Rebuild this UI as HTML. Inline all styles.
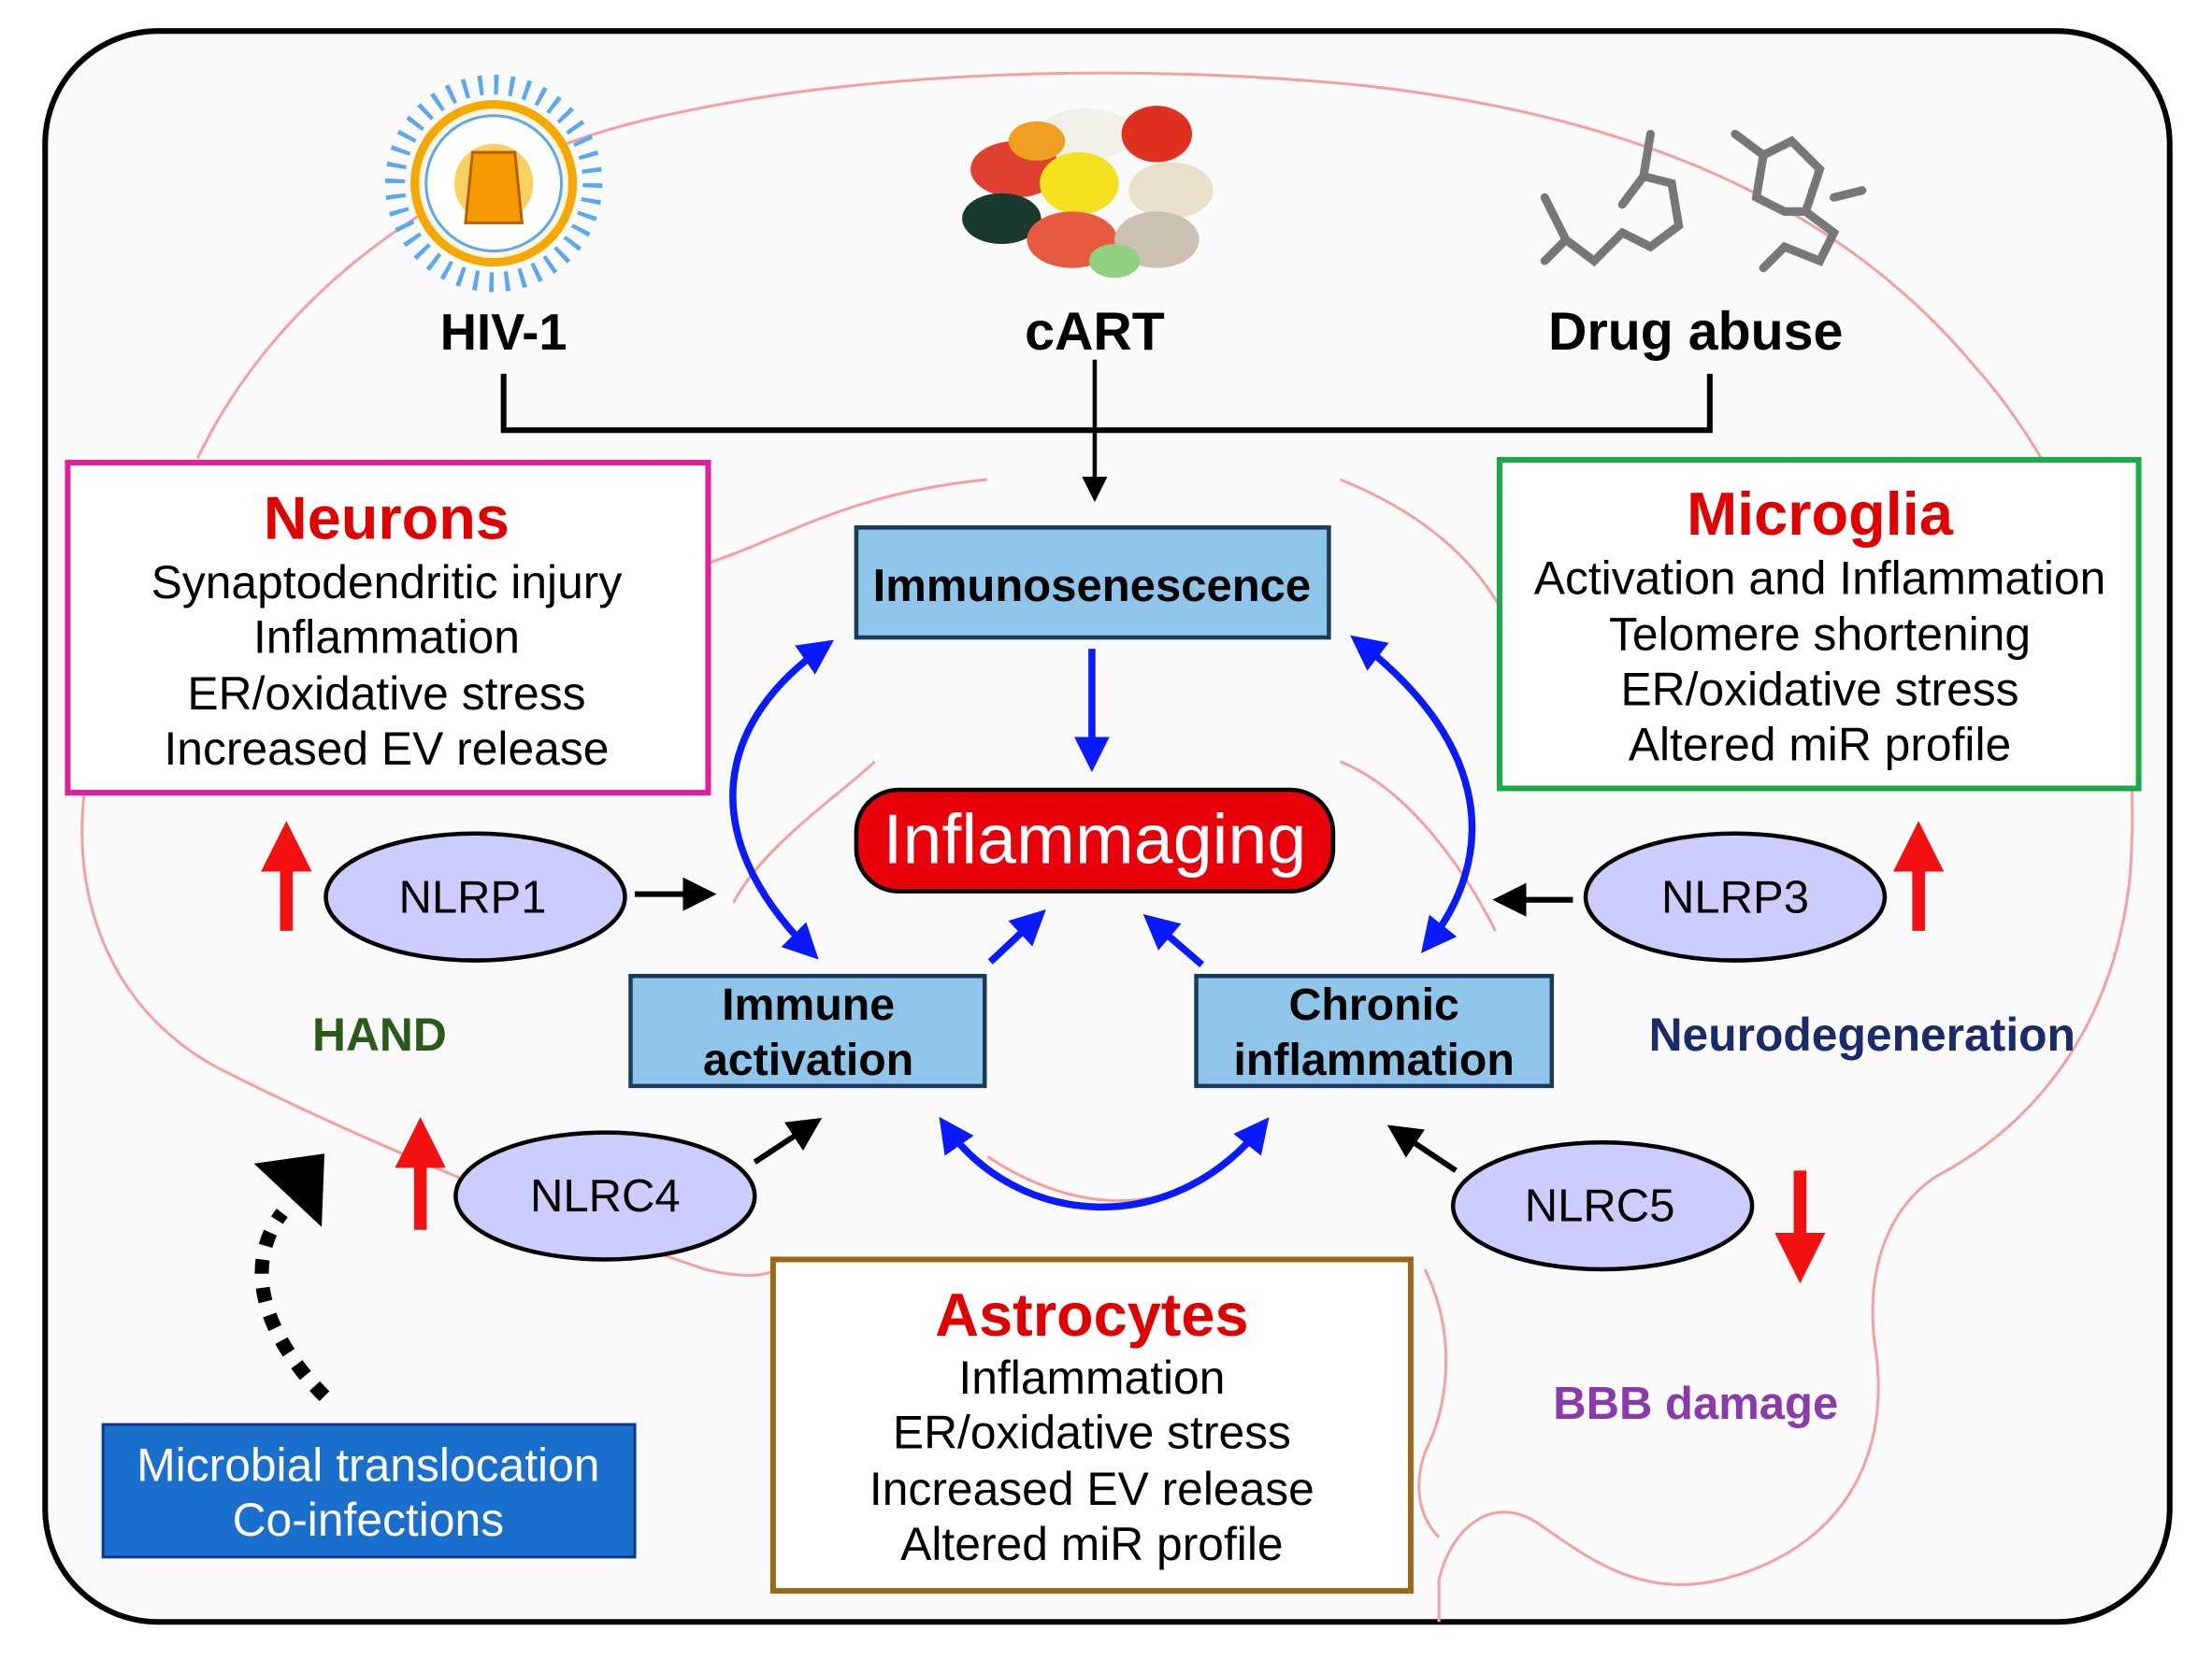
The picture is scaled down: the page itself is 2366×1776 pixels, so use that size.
<!DOCTYPE html>
<html><head><meta charset="utf-8"><style>
html,body{margin:0;padding:0;background:#fff}
svg{display:block}
text{font-family:"Liberation Sans",sans-serif}
</style></head><body>
<svg width="2366" height="1776" viewBox="0 0 1568 1177" xmlns="http://www.w3.org/2000/svg">
<defs>
<marker id="ab" markerWidth="6" markerHeight="6" refX="4" refY="3" orient="auto" markerUnits="strokeWidth"><path d="M0,0 L6,3 L0,6 Z" fill="#000"/></marker>
<marker id="abl" markerWidth="5" markerHeight="5" refX="3.5" refY="2.5" orient="auto-start-reverse" markerUnits="strokeWidth"><path d="M0,0 L5,2.5 L0,5 Z" fill="#0a1aff"/></marker>
<marker id="ar" markerWidth="4" markerHeight="4" refX="2" refY="2" orient="auto" markerUnits="strokeWidth"><path d="M0,0 L4,2 L0,4 Z" fill="#f21010"/></marker>
</defs>
<rect x="32" y="22" width="1506" height="1128" rx="80" fill="#fafafa" stroke="#000" stroke-width="4"/>
<g fill="none" stroke="#f5a0a0" stroke-width="2">
<path d="M140,325 C200,200 330,110 480,80 C620,50 800,45 960,60 C1150,80 1300,140 1400,260 C1480,350 1520,480 1510,620 C1500,720 1450,790 1380,830 C1340,850 1320,900 1330,960 C1340,1040 1300,1100 1220,1120 C1160,1135 1120,1100 1090,1080 C1060,1060 1030,1080 1020,1120 L1020,1150"/>
<path d="M60,560 C50,640 80,720 160,760 C260,810 380,860 500,900 C540,910 560,900 548,893"/>
<path d="M1010,900 C1030,940 1030,990 1010,1030 C1000,1060 1010,1080 1020,1090"/>
<path d="M500,400 C560,380 600,350 700,340 M950,340 C1000,360 1040,390 1063,430 M520,640 C540,600 600,560 620,540 M950,540 C1000,560 1040,620 1060,660 M700,820 C760,860 820,860 860,830"/>
</g>
<g>
<circle cx="350" cy="130" r="70" fill="none" stroke="#5aa8f0" stroke-dasharray="3 8" stroke-width="14"/>
<circle cx="350" cy="130" r="56" fill="#fff5e0" stroke="#f5a800" stroke-width="6"/>
<circle cx="350" cy="130" r="48" fill="#fff" stroke="#5aa8f0" stroke-width="2"/>
<circle cx="350" cy="130" r="28" fill="#f8d060"/>
<path d="M335,108 L365,108 L370,158 L330,158 Z" fill="#f59a00" stroke="#b86000" stroke-width="2"/>
</g>
<g>
<ellipse cx="720" cy="120" rx="32" ry="20" fill="#e04030"/>
<ellipse cx="770" cy="95" rx="35" ry="18" fill="#f0f0e8"/>
<ellipse cx="820" cy="95" rx="25" ry="20" fill="#e03020"/>
<ellipse cx="765" cy="130" rx="28" ry="22" fill="#f5e020"/>
<ellipse cx="830" cy="135" rx="30" ry="20" fill="#e8e0c8"/>
<ellipse cx="710" cy="155" rx="28" ry="18" fill="#1a3a30"/>
<ellipse cx="760" cy="170" rx="32" ry="20" fill="#e85a40"/>
<ellipse cx="820" cy="170" rx="30" ry="20" fill="#ccc0b0"/>
<ellipse cx="790" cy="185" rx="18" ry="12" fill="#90d080"/>
<ellipse cx="735" cy="100" rx="20" ry="14" fill="#f0a020"/>
</g>
<g stroke="#777" stroke-width="6" fill="none" stroke-linecap="round">
<path d="M1095,140 L1110,170 L1130,185 L1150,165 L1170,175 L1190,160 L1185,130 L1165,125 L1150,145 M1165,125 L1170,95 M1110,170 L1095,185"/>
<path d="M1230,95 L1250,110 L1270,100 L1290,120 L1280,150 L1300,165 L1290,185 L1265,175 L1250,190 M1250,110 L1245,140 L1265,150 L1280,150 M1300,140 L1320,135"/>
</g>
<text x="357" y="248" font-size="36" font-weight="bold" text-anchor="middle">HIV-1</text>
<text x="776" y="248" font-size="38" font-weight="bold" text-anchor="middle">cART</text>
<text x="1202" y="248" font-size="38" font-weight="bold" text-anchor="middle">Drug abuse</text>
<path d="M357,265 L357,305 L1212,305 L1212,265" fill="none" stroke="#000" stroke-width="4"/>
<line x1="776" y1="255" x2="776" y2="350" stroke="#000" stroke-width="3" marker-end="url(#ab)"/>
<rect x="607" y="374" width="335" height="78" fill="#8ec5e8" stroke="#1a3b5c" stroke-width="3"/>
<text x="774" y="426" font-size="32.5" font-weight="bold" text-anchor="middle">Immunosenescence</text>
<line x1="774" y1="460" x2="774" y2="540" stroke="#0a1aff" stroke-width="5" marker-end="url(#abl)"/>
<rect x="607" y="560" width="338" height="72" rx="30" fill="#e8000b" stroke="#000" stroke-width="3"/>
<text x="776" y="612" font-size="50" fill="#fff" text-anchor="middle">Inflammaging</text>
<rect x="48" y="328" width="454" height="234" fill="#fff" stroke="#e0209a" stroke-width="4"/>
<g font-size="33" text-anchor="middle">
<text x="274" y="382" font-size="43" font-weight="bold" fill="#e00000">Neurons</text>
<text x="274" y="424">Synaptodendritic injury</text>
<text x="274" y="463">Inflammation</text>
<text x="274" y="503">ER/oxidative stress</text>
<text x="274" y="542">Increased EV release</text>
</g>
<rect x="1063" y="326" width="453" height="233" fill="#fff" stroke="#1aaa4a" stroke-width="4"/>
<g font-size="33" text-anchor="middle">
<text x="1290" y="379" font-size="43" font-weight="bold" fill="#e00000">Microglia</text>
<text x="1290" y="421">Activation and Inflammation</text>
<text x="1290" y="461">Telomere shortening</text>
<text x="1290" y="500">ER/oxidative stress</text>
<text x="1290" y="539">Altered miR profile</text>
</g>
<rect x="548" y="893" width="452" height="235" fill="#fff" stroke="#9a6a1a" stroke-width="4"/>
<g font-size="33" text-anchor="middle">
<text x="774" y="947" font-size="43" font-weight="bold" fill="#e00000">Astrocytes</text>
<text x="774" y="988">Inflammation</text>
<text x="774" y="1027">ER/oxidative stress</text>
<text x="774" y="1067">Increased EV release</text>
<text x="774" y="1106">Altered miR profile</text>
</g>
<rect x="447" y="692" width="251" height="78" fill="#8ec5e8" stroke="#1a3b5c" stroke-width="3"/>
<text x="573" y="723" font-size="32" font-weight="bold" text-anchor="middle">Immune</text>
<text x="573" y="762" font-size="32" font-weight="bold" text-anchor="middle">activation</text>
<rect x="848" y="692" width="252" height="78" fill="#8ec5e8" stroke="#1a3b5c" stroke-width="3"/>
<text x="974" y="723" font-size="32" font-weight="bold" text-anchor="middle">Chronic</text>
<text x="974" y="762" font-size="32" font-weight="bold" text-anchor="middle">inflammation</text>
<g fill="#ccccff" stroke="#000" stroke-width="3">
<ellipse cx="337" cy="636" rx="106" ry="45"/>
<ellipse cx="1230" cy="636" rx="106" ry="45"/>
<ellipse cx="429" cy="848" rx="106" ry="45"/>
<ellipse cx="1136" cy="855" rx="106" ry="45"/>
</g>
<g font-size="32.5" text-anchor="middle">
<text x="335" y="647">NLRP1</text>
<text x="1230" y="647">NLRP3</text>
<text x="429" y="859">NLRC4</text>
<text x="1134" y="866">NLRC5</text>
</g>
<g stroke="#f21010" stroke-width="9">
<line x1="203" y1="660" x2="203" y2="600" marker-end="url(#ar)"/>
<line x1="1360" y1="660" x2="1360" y2="600" marker-end="url(#ar)"/>
<line x1="298" y1="872" x2="298" y2="810" marker-end="url(#ar)"/>
<line x1="1276" y1="830" x2="1276" y2="892" marker-end="url(#ar)"/>
</g>
<g stroke="#000" stroke-width="4">
<line x1="450" y1="634" x2="500" y2="634" marker-end="url(#ab)"/>
<line x1="1115" y1="638" x2="1066" y2="638" marker-end="url(#ab)"/>
<line x1="535" y1="824" x2="576" y2="797" marker-end="url(#ab)"/>
<line x1="1032" y1="830" x2="990" y2="802" marker-end="url(#ab)"/>
</g>
<g fill="none" stroke="#0a1aff" stroke-width="5">
<path d="M575,675 C490,590 510,510 585,458" marker-start="url(#abl)" marker-end="url(#abl)"/>
<path d="M963,455 C1060,530 1060,610 1012,670" marker-start="url(#abl)" marker-end="url(#abl)"/>
<path d="M670,798 C720,870 830,880 895,798" marker-start="url(#abl)" marker-end="url(#abl)"/>
<line x1="702" y1="682" x2="736" y2="650" marker-end="url(#abl)"/>
<line x1="852" y1="684" x2="816" y2="653" marker-end="url(#abl)"/>
</g>
<text x="269" y="745" font-size="33" font-weight="bold" fill="#2a5a1a" text-anchor="middle">HAND</text>
<text x="1320" y="745" font-size="33" font-weight="bold" fill="#1a2a6a" text-anchor="middle">Neurodegeneration</text>
<text x="1202" y="1006" font-size="32.5" font-weight="bold" fill="#8a3aaa" text-anchor="middle">BBB damage</text>
<rect x="73" y="1010" width="377" height="94" fill="#1a6ecc" stroke="#0a3a8a" stroke-width="2"/>
<text x="261" y="1050" font-size="33" fill="#fff" text-anchor="middle">Microbial translocation</text>
<text x="261" y="1089" font-size="33" fill="#fff" text-anchor="middle">Co-infections</text>
<path d="M230,990 C190,950 170,900 200,860" fill="none" stroke="#000" stroke-width="10" stroke-dasharray="10 10"/>
<path d="M180,825 L230,818 L228,870 Z" fill="#000"/>
</svg>
</body></html>
